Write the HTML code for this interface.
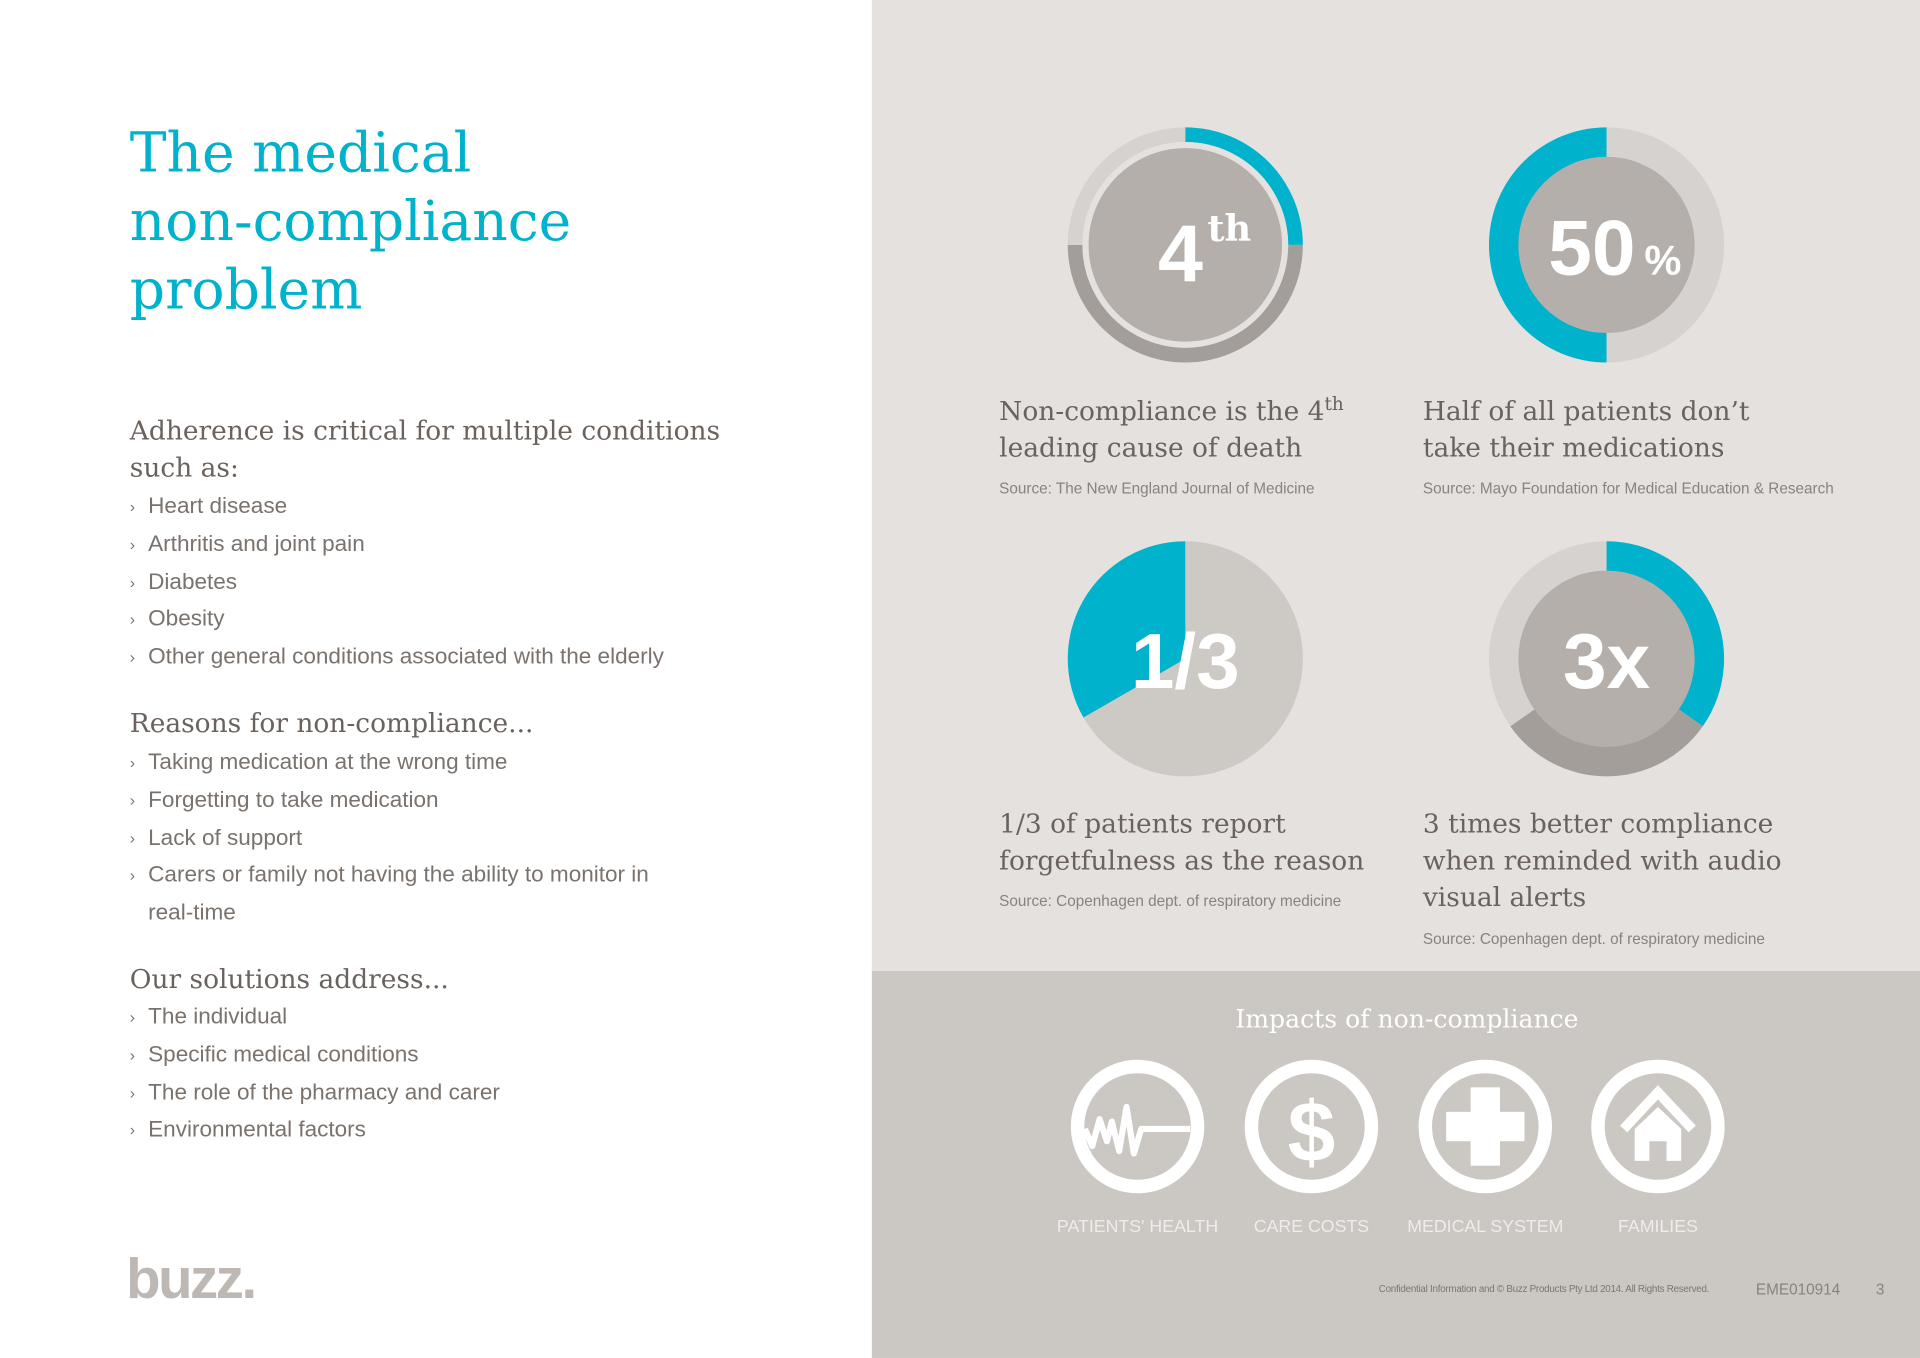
<!DOCTYPE html>
<html><head><meta charset="utf-8">
<style>
html,body{margin:0;padding:0;width:1920px;height:1358px;overflow:hidden;background:#fff}
#w{position:absolute;left:0;top:0;width:1568px;height:1109px;transform:scale(1.22449);transform-origin:0 0;background:#fff}
.a{position:absolute;white-space:nowrap}
.serif{font-family:"DejaVu Serif","Liberation Serif",serif}
.sans{font-family:"Liberation Sans",sans-serif}
.t{color:#00b2cc;font-size:45px;line-height:56px}
.h{color:#6b625d;font-size:21.6px;line-height:30px}
.b{color:#7a726d;font-size:18.4px;line-height:29.8px}
.b span{display:inline-block;width:15px;font-size:13px;vertical-align:1px}
.cap{color:#6b625d;font-size:21.6px;line-height:30px}
.src{color:#8a827d;font-size:12.5px;line-height:16px}
.lbl{color:#efece9;font-size:14.5px;line-height:18px;text-align:center;width:160px}
</style></head><body>
<div id="w">
<div class="a" style="left:712px;top:0;width:856px;height:793px;background:#e4e1df"></div>
<div class="a" style="left:712px;top:793px;width:856px;height:316px;background:#cbc7c3"></div>

<div class="a serif t" style="left:106px;top:97px">The medical<br>non-compliance<br>problem</div>

<div class="a serif h" style="left:106px;top:338px">Adherence is critical for multiple conditions<br>such as:</div>
<div class="a sans b" style="left:106px;top:398px">
<div><span>›</span>Heart disease</div><div><span>›</span>Arthritis and joint pain</div><div><span>›</span>Diabetes</div><div><span>›</span>Obesity</div><div><span>›</span>Other general conditions associated with the elderly</div></div>

<div class="a serif h" style="left:106px;top:577px">Reasons for non-compliance...</div>
<div class="a sans b" style="left:106px;top:607px">
<div><span>›</span>Taking medication at the wrong time</div><div><span>›</span>Forgetting to take medication</div><div><span>›</span>Lack of support</div><div><span>›</span>Carers or family not having the ability to monitor in</div><div><span></span>real-time</div></div>

<div class="a serif h" style="left:106px;top:786px">Our solutions address...</div>
<div class="a sans b" style="left:106px;top:815px">
<div><span>›</span>The individual</div><div><span>›</span>Specific medical conditions</div><div><span>›</span>The role of the pharmacy and carer</div><div><span>›</span>Environmental factors</div></div>

<div class="a sans" style="left:103px;top:1016px;font-size:46px;font-weight:bold;color:#bdb8b4;letter-spacing:-2px;line-height:56px">buzz.</div>

<svg class="a" id="charts" style="left:0;top:0" width="1568" height="800"></svg>

<div class="a serif cap" style="left:816px;top:322px">Non-compliance is the 4<sup style="font-size:15px;line-height:0">th</sup><br>leading cause of death</div>
<div class="a sans src" style="left:816px;top:391px">Source: The New England Journal of Medicine</div>
<div class="a serif cap" style="left:1162px;top:322px">Half of all patients don’t<br>take their medications</div>
<div class="a sans src" style="left:1162px;top:391px">Source: Mayo Foundation for Medical Education &amp; Research</div>
<div class="a serif cap" style="left:816px;top:659px">1/3 of patients report<br>forgetfulness as the reason</div>
<div class="a sans src" style="left:816px;top:728px">Source: Copenhagen dept. of respiratory medicine</div>
<div class="a serif cap" style="left:1162px;top:659px">3 times better compliance<br>when reminded with audio<br>visual alerts</div>
<div class="a sans src" style="left:1162px;top:759px">Source: Copenhagen dept. of respiratory medicine</div>

<div class="a serif" style="left:949px;top:817px;width:400px;text-align:center;color:#fff;font-size:20.5px;line-height:30px">Impacts of non-compliance</div>

<svg class="a" style="left:0;top:850px" width="1568" height="140">
<g fill="none" stroke="#fff" stroke-width="11">
<circle cx="929" cy="70" r="49"/>
<circle cx="1071" cy="70" r="49"/>
<circle cx="1213" cy="70" r="49"/>
<circle cx="1354" cy="70" r="49"/>
</g>
<polyline points="886,72 892,86 898,64 904,82 908,66 914,90 920,54 926,92 932,72 972,72" fill="none" stroke="#fff" stroke-width="5" stroke-linejoin="round"/>
<text x="1071" y="98" text-anchor="middle" font-family="Liberation Sans,sans-serif" font-weight="bold" font-size="70" fill="#fff">$</text>
<rect x="1201" y="38" width="24" height="64" fill="#fff"/><rect x="1181" y="58" width="64" height="24" fill="#fff"/>
<polyline points="1326,72 1354,42 1382,72" fill="none" stroke="#fff" stroke-width="8"/>
<path d="M1335,72 L1354,54 L1373,72 L1373,98 L1361,98 L1361,82 L1347,82 L1347,98 L1335,98 Z" fill="#fff"/>
</svg>
<div class="a sans lbl" style="left:849px;top:993px">PATIENTS' HEALTH</div>
<div class="a sans lbl" style="left:991px;top:993px">CARE COSTS</div>
<div class="a sans lbl" style="left:1133px;top:993px">MEDICAL SYSTEM</div>
<div class="a sans lbl" style="left:1274px;top:993px">FAMILIES</div>

<div class="a sans" style="left:1126px;top:1048px;font-size:8px;color:#7d7570;letter-spacing:-0.2px">Confidential Information and © Buzz Products Pty Ltd 2014. All Rights Reserved.</div>
<div class="a sans" style="left:1434px;top:1046px;font-size:12.5px;color:#8a827d">EME010914</div>
<div class="a sans" style="left:1532px;top:1046px;font-size:12.5px;color:#8a827d">3</div>
</div>
<script>
const chartCenters=[[968,200],[1312,200],[968,538],[1312,538]];
const chart1Segments=[90,180,90];
const chart1Colors=['#00b2cc','#a49e9a','#d6d2cf'];
const chart2Segments=[180,180];
const chart2Colors=['#d6d2cf','#00b2cc'];
const chart3Segments=[240,120];
const chart3Colors=['#cdc9c5','#00b2cc'];
const chart4Segments=[125,110,125];
const chart4Colors=['#00b2cc','#a49e9a','#d6d2cf'];
const chartLabels=['4','50','1/3','3x'];
const NS='http://www.w3.org/2000/svg';
const svg=document.getElementById('charts');
function pt(cx,cy,r,a){const t=(a-90)*Math.PI/180;return [cx+r*Math.cos(t),cy+r*Math.sin(t)];}
function sector(cx,cy,r0,r1,a0,a1,col,name){
  const p=document.createElementNS(NS,'path');
  const lg=(a1-a0)>180?1:0;
  const [x1,y1]=pt(cx,cy,r1,a0),[x2,y2]=pt(cx,cy,r1,a1);
  let d;
  if(r0>0){const [x3,y3]=pt(cx,cy,r0,a1),[x4,y4]=pt(cx,cy,r0,a0);
    d=`M${x1},${y1}A${r1},${r1} 0 ${lg} 1 ${x2},${y2}L${x3},${y3}A${r0},${r0} 0 ${lg} 0 ${x4},${y4}Z`;}
  else d=`M${cx},${cy}L${x1},${y1}A${r1},${r1} 0 ${lg} 1 ${x2},${y2}Z`;
  p.setAttribute('d',d);p.setAttribute('fill',col);
  
  
  svg.appendChild(p);
}
function ring(i,segs,cols,r0,r1){
  const [cx,cy]=chartCenters[i];let a=0;
  segs.forEach((s,j)=>{sector(cx,cy,r0,r1,a,a+s,cols[j],'chart'+(i+1)+'-segment-'+j);a+=s;});
}
function disk(i,r,col){
  const c=document.createElementNS(NS,'circle');
  c.setAttribute('cx',chartCenters[i][0]);c.setAttribute('cy',chartCenters[i][1]);c.setAttribute('r',r);c.setAttribute('fill',col);
  
  
  svg.appendChild(c);
}
ring(0,chart1Segments,chart1Colors,84,96);
disk(0,84,'#e4e1df');disk(0,79,'#b5afab');
ring(1,chart2Segments,chart2Colors,0,96);disk(1,72,'#b5afab');
ring(2,chart3Segments,chart3Colors,0,96);
ring(3,chart4Segments,chart4Colors,0,96);disk(3,72,'#b5afab');
function label(i,txt,size,dx,dy){
  const t=document.createElementNS(NS,'text');
  t.setAttribute('x',chartCenters[i][0]+dx);t.setAttribute('y',chartCenters[i][1]+dy);
  t.setAttribute('text-anchor','middle');t.setAttribute('fill','#fff');
  t.setAttribute('font-family','Liberation Sans, sans-serif');t.setAttribute('font-weight','bold');
  t.setAttribute('font-size',size);t.textContent=txt;
  
  
  svg.appendChild(t);return t;
}
label(0,chartLabels[0],66,-4,30);
const th=label(0,'th',34,36,-3);th.setAttribute('font-family','DejaVu Serif, serif');th.setAttribute('font-size','30');
label(1,chartLabels[1],64,-12,24);
label(1,'%',34,46,24);
label(2,chartLabels[2],64,0,24);
label(3,chartLabels[3],64,0,24);
</script>
</body></html>
